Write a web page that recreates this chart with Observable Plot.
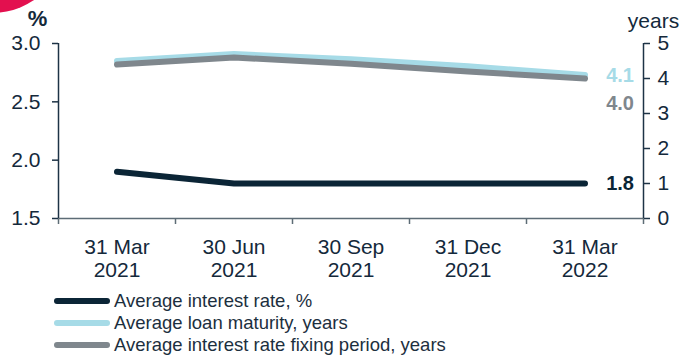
<!DOCTYPE html>
<html>
<head>
<meta charset="utf-8">
<script src="https://cdn.jsdelivr.net/npm/d3@7"></script>
<script src="https://cdn.jsdelivr.net/npm/@observablehq/plot@0.6"></script>
<style>
  html, body { margin: 0; padding: 0; background: #ffffff; }
  body { font-family: "Liberation Sans", Arial, sans-serif; }
  #wrap { position: relative; width: 681px; height: 356px; overflow: hidden; }
  #blob { position: absolute; left: -80px; top: -132px; width: 145px; height: 145px; border-radius: 50%; background: #e3104f; }
  #chart { position: absolute; left: 0; top: 0; }
  #legend { position: absolute; left: 54px; top: 290px; font-size: 18.5px; color: #1c2f3e; line-height: 22px; }
  .row { display: flex; align-items: center; height: 22px; white-space: nowrap; }
  .sw { width: 56px; height: 6px; border-radius: 3px; margin-right: 4px; }
</style>
</head>
<body>
<div id="wrap">
  <div id="blob"></div>
  <div id="chart"></div>
  <div id="legend"></div>
</div>
<script>
// ---- data ----
const dates = ["31 Mar\n2021", "30 Jun\n2021", "30 Sep\n2021", "31 Dec\n2021", "31 Mar\n2022"];
const interestRate = [1.9, 1.8, 1.8, 1.8, 1.8];        // %, left axis
const loanMaturity = [4.5, 4.7, 4.55, 4.35, 4.1];      // years, right axis
const fixingPeriod = [4.4, 4.6, 4.42, 4.2, 4.0];       // years, right axis
const leftTicks = [1.5, 2.0, 2.5, 3.0];
const rightTicks = [0, 1, 2, 3, 4, 5];
const seriesNames = ["Average interest rate, %", "Average loan maturity, years", "Average interest rate fixing period, years"];

// ---- styling ----
const colRate = "#0b2536";
const colMat = "#a6dbe7";
const colFix = "#7f878d";
const textCol = "#14293b";

// years (0..5) mapped onto the left % scale (1.5..3.0)
const toLeft = v => 1.5 + v * 0.3;
const idx = dates.map((d, i) => i);
const bounds = d3.range(-0.5, dates.length, 1);

const rateRows = idx.map(i => ({i, v: interestRate[i]}));
const matRows = idx.map(i => ({i, v: toLeft(loanMaturity[i]), raw: loanMaturity[i]}));
const fixRows = idx.map(i => ({i, v: toLeft(fixingPeriod[i]), raw: fixingPeriod[i]}));
const last = dates.length - 1;

const H = 290;
const chart = Plot.plot({
  width: 681,
  height: H,
  marginLeft: 58,
  marginRight: 38,
  marginTop: 43,
  marginBottom: H - 218,
  x: {type: "linear", domain: [-0.5, dates.length - 0.5]},
  y: {domain: [1.5, 3.0]},
  style: {fontFamily: "'Liberation Sans', Arial, sans-serif", fontSize: "21px", color: textCol, background: "transparent", overflow: "visible"},
  marks: [
    // frame lines
    Plot.ruleY([1.5], {stroke: "#5d6c76", strokeWidth: 1.5}),
    Plot.ruleX([-0.5], {stroke: "#1d3346", strokeWidth: 1.5}),
    Plot.ruleX([dates.length - 0.5], {stroke: "#1d3346", strokeWidth: 1.5}),
    // x axis
    Plot.axisX(bounds, {tickSize: 6, tickFormat: () => "", stroke: "#5d6c76", strokeWidth: 1.5, label: null}),
    Plot.axisX(idx, {tickSize: 0, tickPadding: 18, tickFormat: i => dates[i], lineHeight: 1.14, fontSize: 21, fill: textCol, label: null}),
    // left axis
    Plot.axisY(leftTicks, {anchor: "left", tickSize: 6, tickPadding: 12, stroke: "#1d3346", strokeWidth: 1.5, tickFormat: d3.format(".1f"), fill: textCol, fontSize: 21, label: null}),
    // right axis (years)
    Plot.axisY(rightTicks.map(toLeft), {anchor: "right", tickSize: 6, tickPadding: 8, stroke: "#1d3346", strokeWidth: 1.5, tickFormat: (d, k) => rightTicks[k], fill: textCol, fontSize: 21, label: null}),
    // axis titles
    Plot.text(["%"], {frameAnchor: "top-left", dx: -21, dy: -18, lineAnchor: "bottom", textAnchor: "middle", fontWeight: "bold", fontSize: 22, fill: textCol}),
    Plot.text(["years"], {frameAnchor: "top-right", dx: 10, dy: -16, lineAnchor: "bottom", textAnchor: "middle", fontSize: 21, fill: textCol}),
    // lines
    Plot.line(matRows, {x: "i", y: "v", stroke: colMat, strokeWidth: 6, strokeLinecap: "round", strokeLinejoin: "round"}),
    Plot.line(fixRows, {x: "i", y: "v", stroke: colFix, strokeWidth: 6, strokeLinecap: "round", strokeLinejoin: "round"}),
    Plot.line(rateRows, {x: "i", y: "v", stroke: colRate, strokeWidth: 6, strokeLinecap: "round", strokeLinejoin: "round"}),
    // end labels
    Plot.text([matRows[last]], {x: "i", y: "v", text: d => d.raw.toFixed(1), dx: 49, dy: 1, textAnchor: "end", fontWeight: "bold", fontSize: 20, fill: colMat}),
    Plot.text([fixRows[last]], {x: "i", y: "v", text: d => d.raw.toFixed(1), dx: 49, dy: 25, textAnchor: "end", fontWeight: "bold", fontSize: 20, fill: colFix}),
    Plot.text([rateRows[last]], {x: "i", y: "v", text: d => d.v.toFixed(1), dx: 49, dy: 0, textAnchor: "end", fontWeight: "bold", fontSize: 20, fill: colRate})
  ]
});
document.getElementById("chart").appendChild(chart);

// legend
const legend = document.getElementById("legend");
[colRate, colMat, colFix].forEach((c, k) => {
  const row = document.createElement("div");
  row.className = "row";
  const sw = document.createElement("div");
  sw.className = "sw";
  sw.style.background = c;
  const t = document.createElement("span");
  t.textContent = seriesNames[k];
  row.appendChild(sw);
  row.appendChild(t);
  legend.appendChild(row);
});
</script>
</body>
</html>
